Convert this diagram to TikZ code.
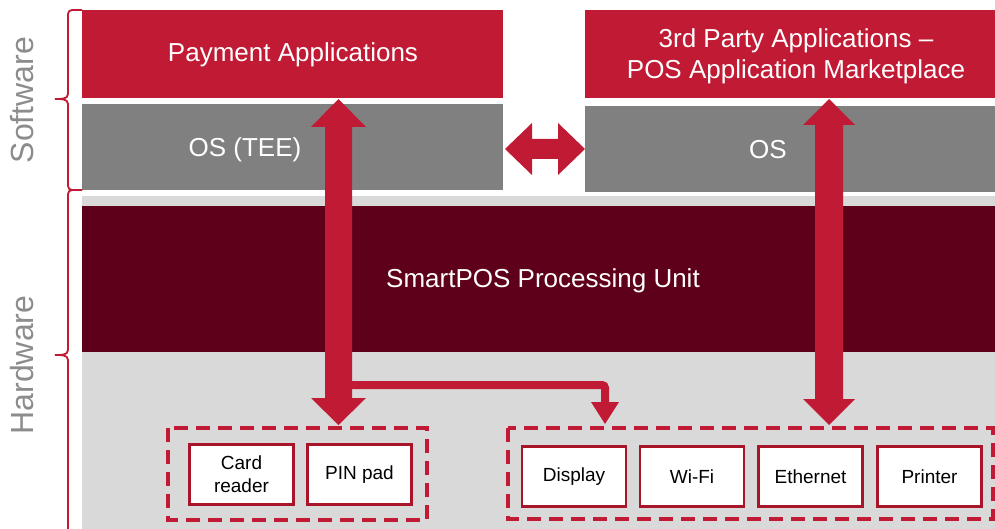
\documentclass[tikz,border=0pt]{standalone}
\usepackage{fontspec}
\setmainfont{Liberation Sans}
\definecolor{posred}{RGB}{193,26,52}
\definecolor{posdark}{RGB}{94,0,26}
\definecolor{posgray}{RGB}{128,128,128}
\definecolor{poslight}{RGB}{217,217,217}
\definecolor{poslabel}{RGB}{140,140,140}
\definecolor{posborder}{RGB}{170,20,40}
\begin{document}
\begin{tikzpicture}[x=1pt,y=-1pt,
  blk/.style={anchor=north west,inner sep=0pt,outer sep=0pt,text=white,font=\fontsize{26}{30}\selectfont},
  dev/.style={draw=posborder,line width=2.2pt,fill=white,inner sep=0pt,outer sep=0pt,minimum width=104pt,minimum height=60pt,align=center,font=\fontsize{19}{23}\selectfont},
  grp/.style={draw=posred,line width=4.5pt,dash pattern=on 14pt off 8pt},
  brc/.style={draw=posred,line width=1.8pt},
  side/.style={rotate=90,text=poslabel,font=\fontsize{32}{36}\selectfont},
  blockarrow/.style={fill=posred,draw=none}]
\useasboundingbox[fill=white] (0,0) rectangle (995,529);
% software blocks
\fill[posred] (82,10) rectangle (503,98);
\fill[posgray] (82,104) rectangle (503,190);
\fill[posred] (585,10) rectangle (995,98);
\fill[posgray] (585,106) rectangle (995,192);
% hardware
\fill[poslight] (82,196) rectangle (995,529);
\fill[posdark] (82,206) rectangle (995,352);
\node[text=white,font=\fontsize{26}{30}\selectfont] (pay) at (293,55) {Payment Applications};
\node[text=white,font=\fontsize{26}{30}\selectfont] (tee) at (245,150) {OS (TEE)};
\node[text=white,align=center,font=\fontsize{26}{31}\selectfont] (third) at (796,56) {3rd Party Applications --\\POS Application Marketplace};
\node[text=white,font=\fontsize{26}{30}\selectfont] (os) at (768,150) {OS};
\node[text=white,font=\fontsize{26}{30}\selectfont] (spu) at (543,281) {SmartPOS Processing Unit};
% side labels
\node[side] (sw) at (22,100) {Software};
\node[side] (hw) at (22,365) {Hardware};
% braces
\draw[brc] (82,10) -- (72,10) to[out=180,in=90] (68,14) -- (68,94) to[out=-90,in=0] (55,99) to[out=0,in=90] (68,104) -- (68,186) to[out=-90,in=180] (72,190) -- (82,190);
\draw[brc] (82,190) -- (72,190) to[out=180,in=90] (68,194) -- (68,350) to[out=-90,in=0] (55,355) to[out=0,in=90] (68,360) -- (68,529);
% dashed groups
\draw[grp] (168,428) rectangle (427,520);
\draw[grp] (508,428) rectangle (993,519);
% devices
\node[dev] (card) at (241.5,474.5) {Card\\reader};
\node[dev] (pin) at (359.5,474.5) {PIN pad};
\node[dev] (disp) at (574,476.5) {Display};
\node[dev] (wifi) at (692,476.5) {Wi-Fi};
\node[dev] (eth) at (810.5,476.5) {Ethernet};
\node[dev] (prn) at (929.5,476.5) {Printer};
% branch arrow
\draw[posred,line width=8pt,rounded corners=3pt] (345,385) -- (605,385) -- (605,404);
\fill[blockarrow] (591,402) -- (619,402) -- (605,424) -- cycle;
% left double arrow
\fill[blockarrow] (338.5,99) -- (366,127) -- (352,127) -- (352,398) -- (366,398) -- (338.5,425) -- (311,398) -- (325,398) -- (325,127) -- (311,127) -- cycle;
% right double arrow
\fill[blockarrow] (829,99) -- (855,125) -- (843,125) -- (843,399) -- (855,399) -- (829,425) -- (803,399) -- (815,399) -- (815,125) -- (803,125) -- cycle;
% middle horizontal arrow
\fill[blockarrow] (505,149) -- (532,123) -- (532,139) -- (558,139) -- (558,123) -- (585,149) -- (558,175) -- (558,159) -- (532,159) -- (532,175) -- cycle;
\end{tikzpicture}
\end{document}
